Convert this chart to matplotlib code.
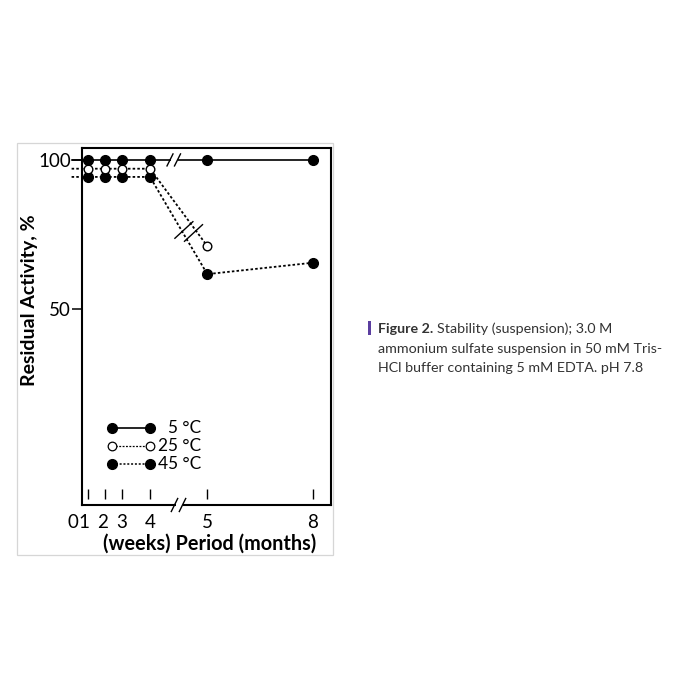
import matplotlib
matplotlib.use('Agg')
import matplotlib.pyplot as plt
from matplotlib.lines import Line2D
from matplotlib.patches import Rectangle
from matplotlib.ticker import NullLocator, FixedLocator, FixedFormatter
from matplotlib.transforms import IdentityTransform

plt.rcParams['font.family'] = ['Lato', 'DejaVu Sans']

# ---- data ----
time_labels = ['0', '1', '2', '3', '4', '5', '8']      # weeks 0-4, then months 5, 8
time_pos = [-10.4, 6.3, 23.0, 39.7, 68.0, 125.3, 230.7]  # broken-axis positions
label_pos = [-8.6, 2.4, 21.0, 39.7, 68.0, 125.3, 230.7]

act_5C = [100, 100, 100, 100, 100, 100, 100]
act_25C = [96, 96, 96, 96, 96, 67]
act_45C = [92.4, 92.4, 92.4, 92.4, 92.4, 58.8, 62.0]

series_labels = ['5 \u00b0C', '25 \u00b0C', '45 \u00b0C']
ytick_vals = [50, 100]
ytick_labels = ['50', '100']

W = H = 700
fig = plt.figure(figsize=(7, 7), dpi=100)

def fx(px):
    return px / W

def fy(py):
    return 1 - py / H

# outer light frame
fig.add_artist(Rectangle((fx(17), fy(555)), fx(316), 412 / H, transform=fig.transFigure,
                         fill=False, edgecolor='#d6d6d6', lw=0.9))

ax = fig.add_axes([fx(82), fy(505), 249 / W, 357 / H])
ax.set_yscale('log')
ax.set_xlim(0, 249)
ax.set_ylim(20.1, 105.7)
for s in ax.spines.values():
    s.set_linewidth(1.5)
    s.set_color('black')

ax.yaxis.set_major_locator(FixedLocator(ytick_vals))
ax.yaxis.set_major_formatter(FixedFormatter(ytick_labels))
ax.yaxis.set_minor_locator(NullLocator())
ax.tick_params(axis='y', direction='out', length=7, width=1.1, pad=1, labelsize=13.5)
ax.set_xticks([])

dot = (0, (1.4, 1.2))
lw_sol = 1.2
lw_dot = 1.3
ms_f = 7.0
ms_o = 6.2

# lines (extend to week 0, outside the frame)
ax.plot(time_pos[:len(act_5C)], act_5C, '-', color='black', lw=lw_sol, clip_on=False, zorder=3)
ax.plot(time_pos[:len(act_25C)], act_25C, linestyle=dot, color='black', lw=lw_dot, clip_on=False, zorder=3)
ax.plot(time_pos[:len(act_45C)], act_45C, linestyle=dot, color='black', lw=lw_dot, clip_on=False, zorder=3)

# markers (no marker at week 0)
ax.plot(time_pos[1:len(act_45C)], act_45C[1:], 'o', color='black', ms=ms_f, clip_on=False, zorder=5)
ax.plot(time_pos[1:len(act_25C)], act_25C[1:], 'o', mfc='white', mec='black', mew=1.0, ms=ms_o,
        clip_on=False, zorder=6)
ax.plot(time_pos[1:len(act_5C)], act_5C[1:], 'o', color='black', ms=ms_f, clip_on=False, zorder=7)

# x tick marks (inside, short)
ax.vlines(time_pos[1:], 0.017, 0.045, transform=ax.get_xaxis_transform(), color='black', lw=1.0)

# x tick labels
for lab, xp in zip(time_labels, label_pos):
    ax.text(xp, -0.05, lab, transform=ax.get_xaxis_transform(), ha='center', va='center',
            fontsize=13.5, clip_on=False)

fig.canvas.draw()

def pix(x, y):
    X, Y = ax.transData.transform((x, y))
    return X, Y

def slash(cx, cy, dx, dy, lw=1.0):
    fig.add_artist(Line2D([cx - dx, cx + dx], [cy - dy, cy + dy], transform=IdentityTransform(),
                          color='black', lw=lw, zorder=10))

def gap(x0, y0, x1, y1, lw):
    fig.add_artist(Line2D([x0, x1], [y0, y1], transform=IdentityTransform(),
                          color='white', lw=lw, zorder=9, solid_capstyle='butt'))

# top break on 5 C line
bx, by = pix(92.0, 100)
gap(bx - 3.5, by, bx + 3.5, by, 4)
slash(bx - 4.0, by, 3.0, 6.0)
slash(bx + 3.5, by, 3.0, 6.0)

# bottom axis break
bx2, _ = pix(97.0, 50)
by2 = H - 505
gap(bx2 - 3.5, by2, bx2 + 3.5, by2, 4)
slash(bx2 - 4.5, by2, 3.2, 6.5)
slash(bx2 + 3.5, by2, 3.2, 6.5)

# diagonal break on dotted lines
cx, cy = pix(106.7, 71.7)
slash(cx - 4.8, cy + 1.5, 9.0, 8.3, lw=1.0)
slash(cx + 4.8, cy - 1.5, 9.0, 8.3, lw=1.0)

# legend
leg_y = [0.2165, 0.166, 0.114]
lx0, lx1 = 0.119, 0.273
ax.plot([lx0, lx1], [leg_y[0]] * 2, '-', color='black', lw=lw_sol, transform=ax.transAxes,
        marker='o', ms=ms_f)
ax.plot([lx0, lx1], [leg_y[1]] * 2, linestyle=(0, (1.5, 1.2)), color='black', lw=0.9,
        transform=ax.transAxes, marker='o', mfc='white', mec='black', mew=0.9, ms=ms_o)
ax.plot([lx0, lx1], [leg_y[2]] * 2, linestyle=(0, (1.3, 1.2)), color='black', lw=1.1,
        transform=ax.transAxes, marker='o', ms=ms_f)
for lab, yy in zip(series_labels, leg_y):
    ax.text(0.478, yy, lab, transform=ax.transAxes, ha='right', va='center', fontsize=12.4)

# axis labels
fig.text(fx(209.5), fy(544), '(weeks) Period (months)', ha='center', va='center',
         fontsize=14.3, fontweight='bold')
fig.text(fx(30), fy(300), 'Residual Activity, %', ha='center', va='center', rotation=90,
         fontsize=14, fontweight='bold')

# caption
fig.add_artist(Rectangle((fx(367.5), fy(335)), 4 / W, 14 / H, transform=fig.transFigure,
                         facecolor='#5b3ea0', edgecolor='none'))
cap_col = '#333333'
cap_fs = 10.3
t1 = fig.text(fx(378), fy(329), 'Figure 2.', ha='left', va='center', fontsize=cap_fs,
              fontweight='bold', color=cap_col)
fig.canvas.draw()
bb = t1.get_window_extent()
fig.text((bb.x1 + 3.5) / W, fy(329), 'Stability (suspension); 3.0 M', ha='left', va='center',
         fontsize=cap_fs, color=cap_col)
fig.text(fx(378), fy(349), 'ammonium sulfate suspension in 50 mM Tris-', ha='left', va='center',
         fontsize=cap_fs, color=cap_col)
fig.text(fx(378), fy(368.5), 'HCl buffer containing 5 mM EDTA. pH 7.8', ha='left', va='center',
         fontsize=cap_fs, color=cap_col)

fig.savefig('out.png', dpi=100)
